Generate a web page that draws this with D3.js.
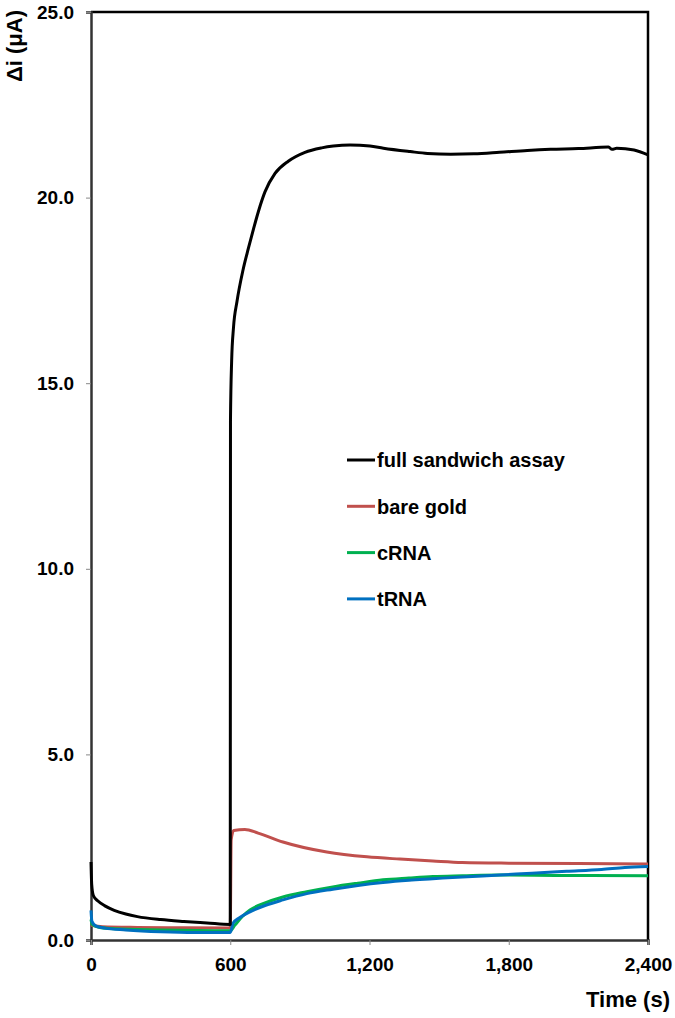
<!DOCTYPE html>
<html>
<head>
<meta charset="utf-8">
<script src="https://cdn.jsdelivr.net/npm/d3@7"></script>
<style>
  body { margin: 0; background: #fff; }
  text { font-family: "Liberation Sans", Arial, sans-serif; font-weight: bold; }
</style>
</head>
<body>
<div id="chart"></div>
<script>
// series: [time (s), delta i (uA)]
var fullSandwich = [
    [0, 2.1], [3, 1.5], [10, 1.2], [30, 1.05], [60, 0.92], [100, 0.8], [150, 0.7],
    [200, 0.63], [300, 0.55], [400, 0.5], [500, 0.46], [600, 0.42],
    [601, 14.0], [606, 15.6], [614, 16.5], [629, 17.2], [655, 18.05], [678, 18.63],
    [700, 19.15], [721, 19.62], [750, 20.16], [793, 20.65], [850, 20.98],
    [922, 21.22], [994, 21.34], [1044, 21.39], [1116, 21.42], [1202, 21.39],
    [1260, 21.33], [1375, 21.24], [1450, 21.19], [1550, 21.17], [1650, 21.18],
    [1760, 21.22], [1880, 21.27], [1980, 21.3], [2100, 21.32], [2230, 21.36],
    [2245, 21.3], [2265, 21.33], [2340, 21.28], [2400, 21.15]
];
var bareGold = [
    [0, 0.4], [50, 0.36], [200, 0.34], [400, 0.33], [600, 0.32],
    [604, 2.7], [615, 2.95], [663, 2.98], [720, 2.88], [827, 2.64], [1016, 2.37],
    [1189, 2.24], [1331, 2.18], [1473, 2.13], [1600, 2.09], [1800, 2.07],
    [2100, 2.06], [2400, 2.05]
];
var cRNA = [
    [0, 0.55], [5, 0.42], [30, 0.35], [100, 0.3], [300, 0.27], [600, 0.25],
    [620, 0.4], [650, 0.62], [685, 0.81], [750, 1.0], [827, 1.16], [930, 1.3],
    [1042, 1.43], [1150, 1.53], [1258, 1.62], [1370, 1.67], [1473, 1.71],
    [1600, 1.73], [1762, 1.75], [2000, 1.74], [2400, 1.73]
];
var tRNA = [
    [0, 0.8], [4, 0.5], [20, 0.38], [60, 0.32], [150, 0.27], [300, 0.22],
    [450, 0.2], [600, 0.2], [612, 0.45], [640, 0.6], [685, 0.76], [750, 0.93],
    [827, 1.08], [930, 1.25], [1042, 1.37], [1150, 1.47], [1258, 1.55],
    [1370, 1.61], [1473, 1.65], [1600, 1.7], [1762, 1.75], [1900, 1.8],
    [2050, 1.85], [2200, 1.9], [2300, 1.95], [2400, 1.98]
];

var seriesNames = ["full sandwich assay", "bare gold", "cRNA", "tRNA"];
var seriesData = [fullSandwich, bareGold, cRNA, tRNA];
var xTicks = [0, 600, 1200, 1800, 2400];
var yTicks = [0, 5, 10, 15, 20, 25];

var config = {
    colors: ["#000000", "#c0504d", "#00b050", "#0070c0"],
    width: 675,
    height: 1018,
    plot: { left: 91, right: 648, top: 12, bottom: 940 },
    lineWidth: 3,
    tickFont: 19
};

var svg = d3.select("#chart").append("svg")
    .attr("width", config.width)
    .attr("height", config.height);

var x = d3.scaleLinear().domain([0, 2400]).range([config.plot.left, config.plot.right]);
var y = d3.scaleLinear().domain([0, 25]).range([config.plot.bottom, config.plot.top]);

// frame (top + right)
svg.append("path")
    .attr("d", "M" + x(0) + "," + y(25) + "H" + x(2400) + "V" + y(0))
    .attr("fill", "none")
    .attr("stroke", "#000")
    .attr("stroke-width", 2.5);

// axes
var yAxis = svg.append("g")
    .attr("transform", "translate(" + config.plot.left + ",0)")
    .call(d3.axisLeft(y).tickValues(yTicks).tickSize(5).tickPadding(12)
        .tickFormat(d3.format(".1f")));
var xAxis = svg.append("g")
    .attr("transform", "translate(0," + config.plot.bottom + ")")
    .call(d3.axisBottom(x).tickValues(xTicks).tickSize(5).tickPadding(13)
        .tickFormat(d3.format(",")));

[yAxis, xAxis].forEach(function (ax) {
    ax.select(".domain").attr("stroke", "#333").attr("stroke-width", 2.5);
    ax.selectAll(".tick line").attr("stroke", "#888").attr("stroke-width", 1);
    ax.selectAll(".tick text")
        .attr("fill", "#000")
        .style("font-size", config.tickFont + "px")
        .style("font-family", "'Liberation Sans', Arial, sans-serif")
        .style("font-weight", "bold");
});

// lines
var line = d3.line()
    .x(function (d) { return x(d[0]); })
    .y(function (d) { return y(d[1]); })
    .curve(d3.curveMonotoneX);

// coloured ones first, black on top
[1, 2, 3, 0].forEach(function (i) {
    svg.append("path")
        .datum(seriesData[i])
        .attr("d", line)
        .attr("fill", "none")
        .attr("stroke", config.colors[i])
        .attr("stroke-width", config.lineWidth)
        .attr("stroke-linejoin", "round");
});

// legend
var legend = svg.append("g").attr("transform", "translate(347,460)");
seriesNames.forEach(function (name, i) {
    var g = legend.append("g").attr("transform", "translate(0," + (i * 46.3) + ")");
    g.append("line")
        .attr("x1", 0).attr("x2", 28)
        .attr("stroke", config.colors[i])
        .attr("stroke-width", config.lineWidth);
    g.append("text")
        .attr("x", 30)
        .attr("dy", "0.36em")
        .style("font-size", "20px")
        .text(name);
});

// axis titles
svg.append("text")
    .attr("transform", "translate(22,10) rotate(-90)")
    .attr("text-anchor", "end")
    .style("font-size", "22px")
    .text("\u0394i (\u03bcA)");

svg.append("text")
    .attr("x", 670)
    .attr("y", 1007)
    .attr("text-anchor", "end")
    .style("font-size", "22px")
    .text("Time (s)");
</script>
</body>
</html>
